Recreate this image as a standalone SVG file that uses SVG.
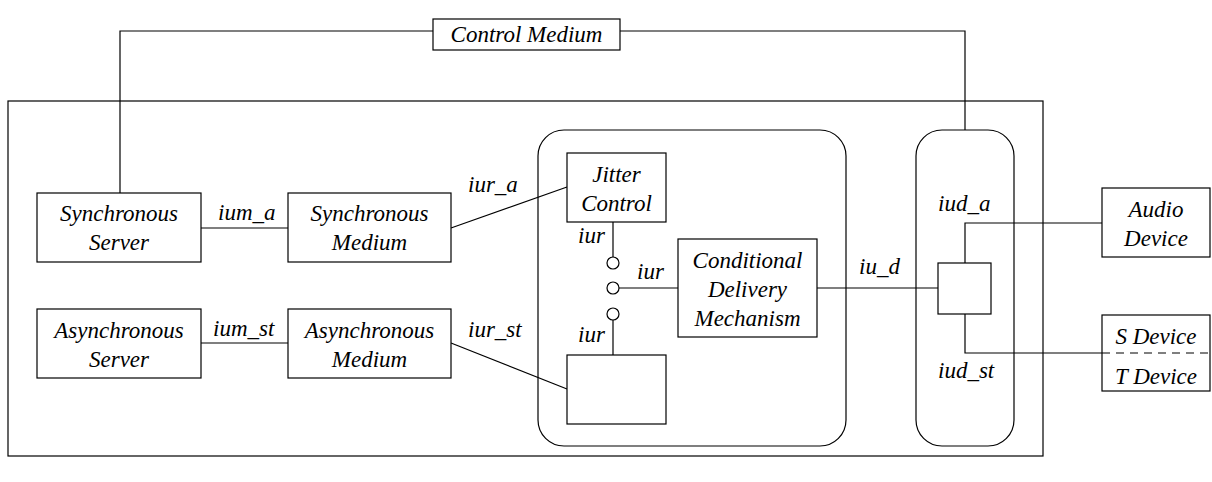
<svg xmlns="http://www.w3.org/2000/svg" width="1212" height="482" viewBox="0 0 1212 482">
  <style>
    .box { fill: #fff; stroke: #000; stroke-width: 1.2; }
    .frame { fill: none; stroke: #000; stroke-width: 1.2; }
    .wire { fill: none; stroke: #000; stroke-width: 1.2; }
    .dash { fill: none; stroke: #000; stroke-width: 1.2; stroke-dasharray: 8 6; }
    .port { fill: #fff; stroke: #000; stroke-width: 1.2; }
    text { font-family: 'Liberation Serif', Tinos, 'DejaVu Serif', 'Noto Serif', serif; font-style: italic; font-size: 23px; fill: #000; }
    .c { text-anchor: middle; }
  </style>
  <rect width="1212" height="482" fill="#fff"/>

  <!-- system boundary -->
  <rect id="system" class="frame" x="8" y="101" width="1035" height="355"/>

  <!-- connectors -->
  <g id="connectors">
    <polyline class="wire" points="120,193 120,31 433,31"/>
    <polyline class="wire" points="620,31 965,31 965,130"/>
    <line class="wire" x1="201" y1="228" x2="288" y2="228"/>
    <line class="wire" x1="201" y1="343" x2="288" y2="343"/>
    <line class="wire" x1="451" y1="228" x2="567" y2="187"/>
    <line class="wire" x1="451" y1="343" x2="567" y2="389"/>
    <line class="wire" x1="613" y1="222" x2="613" y2="257"/>
    <line class="wire" x1="619" y1="288" x2="678" y2="288"/>
    <line class="wire" x1="613" y1="320" x2="613" y2="355"/>
    <line class="wire" x1="817" y1="288" x2="938" y2="288"/>
    <polyline class="wire" points="965,263 965,223 1102,223"/>
    <polyline class="wire" points="965,314 965,353 1102,353"/>
  </g>

  <g id="control-medium">
    <rect class="box" x="433" y="19" width="187" height="31"/>
    <text class="c" x="526.5" y="42" font-family="Liberation Serif, serif">Control Medium</text>
  </g>

  <g id="synchronous-server">
    <rect class="box" x="37" y="193" width="164" height="69"/>
    <text class="c" x="119" y="221">Synchronous</text>
    <text class="c" x="119" y="250">Server</text>
  </g>

  <g id="synchronous-medium">
    <rect class="box" x="288" y="193" width="163" height="69"/>
    <text class="c" x="369.5" y="221">Synchronous</text>
    <text class="c" x="369.5" y="250">Medium</text>
  </g>

  <g id="asynchronous-server">
    <rect class="box" x="37" y="309" width="164" height="69"/>
    <text class="c" x="119" y="338">Asynchronous</text>
    <text class="c" x="119" y="367">Server</text>
  </g>

  <g id="asynchronous-medium">
    <rect class="box" x="288" y="309" width="163" height="69"/>
    <text class="c" x="369.5" y="338">Asynchronous</text>
    <text class="c" x="369.5" y="367">Medium</text>
  </g>

  <g id="receiver">
    <rect class="frame" x="538" y="130" width="308" height="316" rx="26" ry="26"/>
  </g>

  <g id="jitter-control">
    <rect class="box" x="567" y="153" width="99" height="69"/>
    <text class="c" x="616.5" y="182">Jitter</text>
    <text class="c" x="616.5" y="211">Control</text>
  </g>

  <g id="stream-buffer">
    <rect class="box" x="567" y="355" width="99" height="69"/>
  </g>

  <g id="conditional-delivery">
    <rect class="box" x="678" y="239" width="139" height="98"/>
    <text class="c" x="747.5" y="268">Conditional</text>
    <text class="c" x="747.5" y="297">Delivery</text>
    <text class="c" x="747.5" y="326">Mechanism</text>
  </g>

  <g id="ports">
    <circle class="port" cx="613" cy="263" r="6"/>
    <circle class="port" cx="613" cy="288" r="6"/>
    <circle class="port" cx="613" cy="314" r="6"/>
  </g>

  <g id="device-router">
    <rect class="frame" x="916" y="130" width="98" height="316" rx="26" ry="26"/>
    <rect class="box" x="938" y="263" width="53" height="51"/>
  </g>

  <g id="audio-device">
    <rect class="box" x="1102" y="188" width="108" height="69"/>
    <text class="c" x="1156" y="217">Audio</text>
    <text class="c" x="1156" y="246">Device</text>
  </g>

  <g id="st-device">
    <rect class="box" x="1102" y="315" width="108" height="76"/>
    <line class="dash" x1="1102" y1="353" x2="1210" y2="353"/>
    <text class="c" x="1156" y="344">S Device</text>
    <text class="c" x="1156" y="384">T Device</text>
  </g>

  <!-- interface labels -->
  <g id="labels">
    <text x="218" y="220">ium_a</text>
    <text x="213" y="336">ium_st</text>
    <text x="468" y="192">iur_a</text>
    <text x="468" y="337">iur_st</text>
    <text x="578" y="243">iur</text>
    <text x="637" y="279">iur</text>
    <text x="578" y="342">iur</text>
    <text x="859" y="274">iu_d</text>
    <text x="938" y="211">iud_a</text>
    <text x="938" y="378">iud_st</text>
  </g>
</svg>
